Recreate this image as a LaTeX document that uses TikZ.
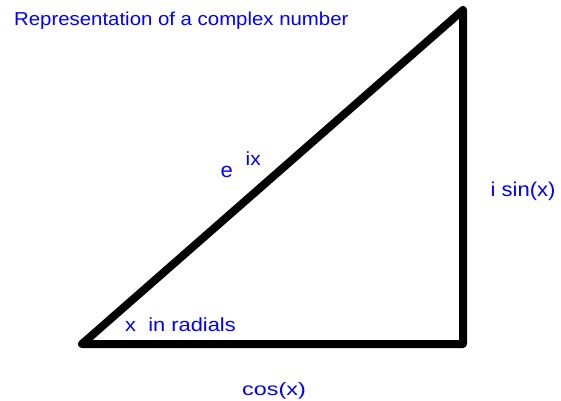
\documentclass[tikz,border=0pt]{standalone}
\usepackage{fontspec}
\setmainfont{Liberation Sans}
\usepackage{graphicx}
\begin{document}
\begin{tikzpicture}[x=1pt,y=-1pt,
  lbl/.style={text=blue, inner sep=0pt, anchor=base west},
  edge/.style={line width=8pt, line cap=round, line join=round, black}]
\useasboundingbox (0,0) rectangle (561,400);
\fill[white] (0,0) rectangle (561,400);
\coordinate (A) at (82,344);
\coordinate (B) at (463,344);
\coordinate (C) at (463,10);
\draw[edge] (A) -- (B) -- (C) -- cycle;
\node[lbl] (title) at (14,25.7) {\scalebox{1.09}[1]{\fontsize{18.7}{22}\selectfont Representation of a complex number}};
\node[lbl] (e) at (220.5,177.3) {\scalebox{1.05}[1]{\fontsize{21}{24}\selectfont e}};
\node[lbl] (ix) at (245.5,165) {\scalebox{1.1}[1]{\fontsize{19}{22}\selectfont ix}};
\node[lbl] (isin) at (490.5,196.7) {\scalebox{1.1}[1]{\fontsize{20}{24}\selectfont i sin(x)}};
\node[lbl] (xrad) at (125,331.7) {\scalebox{1.15}[1]{\fontsize{19}{22}\selectfont x\ \ in radials}};
\node[lbl] (cos) at (242,395) {\scalebox{1.3}[1]{\fontsize{18}{22}\selectfont cos(x)}};
\end{tikzpicture}
\end{document}
